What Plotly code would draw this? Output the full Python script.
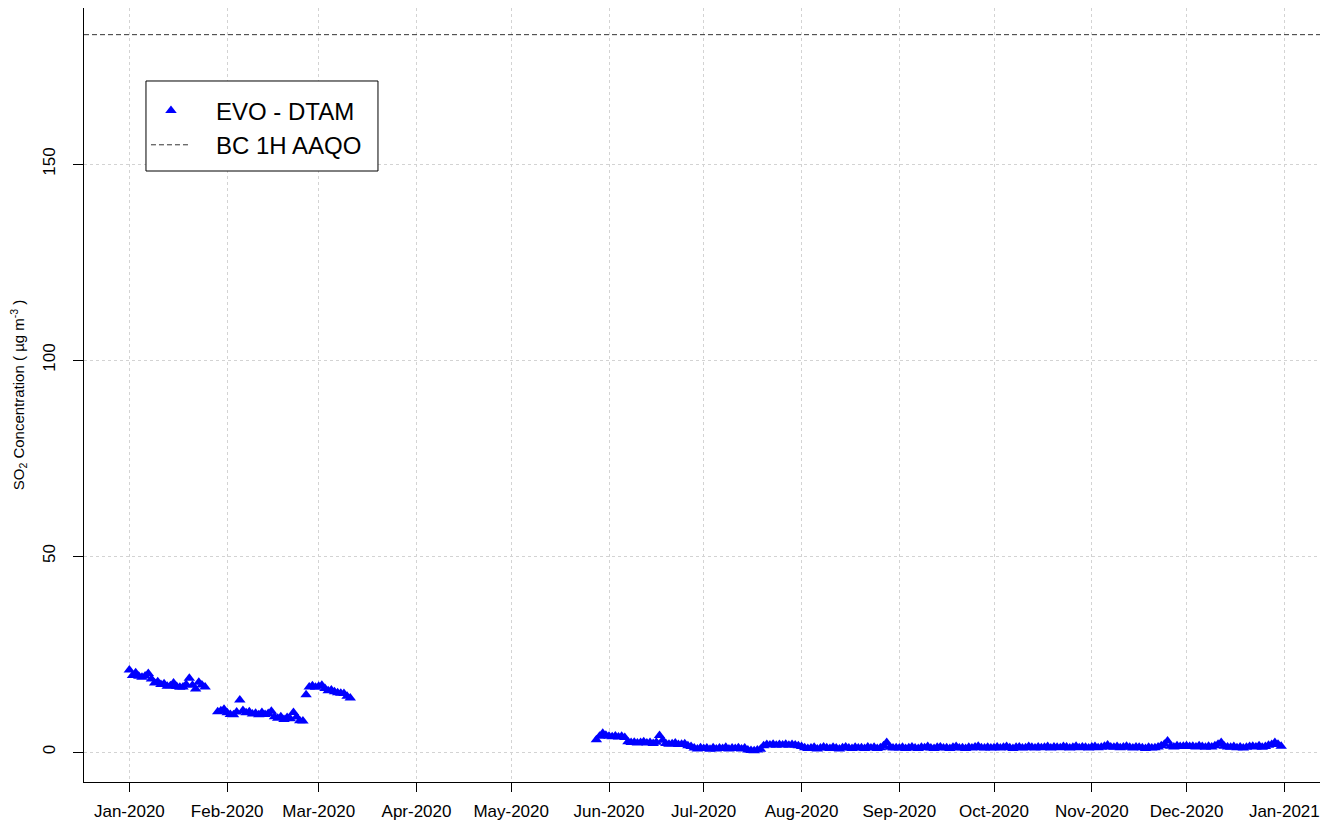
import datetime as dt
import plotly.graph_objects as go

# ---------------- data (daily SO2, ug/m3) ----------------
seg1_start = "2020-01-01"
seg1_vals = [20.9, 19.5, 20.2, 19.3, 19.1, 19.4, 20.0, 18.6, 17.6, 17.9,
             17.2, 17.4, 16.8, 16.9, 17.6, 16.7, 16.5, 16.6, 17.2, 18.8,
             17.0, 16.1, 17.8, 17.1, 16.6]

seg2_start = "2020-01-29"
seg2_vals = [10.3, 10.5, 10.9, 10.0, 9.6, 9.5, 10.2, 13.3, 10.6, 10.0,
             10.3, 9.7, 9.9, 9.5, 10.1, 9.6, 9.8, 10.4, 9.0, 8.6,
             9.0, 8.3, 8.8, 8.5, 10.1, 8.9, 8.0, 7.9]

seg3_start = "2020-02-26"
seg3_vals = [14.6, 16.6, 16.9, 16.5, 16.8, 17.0, 16.2, 15.6, 15.8, 15.4,
             15.1, 15.0, 14.9, 14.2, 13.8]

seg4_start = "2020-05-28"
may_vals = [3.1, 4.0, 4.8, 4.3]
jun_vals = [4.0, 3.9, 4.1, 3.8, 4.0, 3.7, 2.6, 2.4, 2.5, 2.3,
            2.4, 2.6, 2.3, 2.4, 2.2, 2.5, 4.2, 3.0, 2.2, 2.0,
            2.1, 2.3, 1.9, 2.0, 2.1, 1.6, 1.4, 1.0, 0.8, 1.1]
jul_vals = [0.9, 1.0, 0.7, 1.1, 0.8, 1.0, 0.9, 1.2, 0.8, 1.0,
            0.9, 1.1, 0.8, 1.0, 0.5, 0.4, 0.3, 0.5, 0.7, 1.6,
            1.9, 1.8, 2.0, 1.7, 1.9, 1.8, 2.0, 1.7, 1.9, 1.8, 1.6]
aug_vals = [1.4, 1.1, 0.9, 1.0, 1.2, 0.8, 1.0, 1.3, 1.1, 0.9,
            1.2, 1.0, 0.8, 1.1, 1.3, 1.0, 0.9, 1.2, 1.0, 1.1,
            0.9, 1.3, 1.0, 1.2, 0.9, 1.1, 1.6, 2.4, 1.2, 1.0, 1.1]
sep_vals = [1.0, 1.2, 0.9, 1.1, 1.3, 1.0, 0.9, 1.2, 1.1, 1.4,
            1.0, 0.9, 1.2, 1.3, 1.0, 1.1, 0.9, 1.2, 1.4, 1.0,
            1.1, 0.9, 1.2, 1.0, 1.3, 1.5, 1.1, 1.0, 1.2, 1.0]
oct_vals = [1.1, 1.3, 1.0, 1.2, 1.4, 1.1, 0.9, 1.2, 1.3, 1.0,
            1.1, 1.4, 1.2, 1.0, 1.3, 1.1, 1.2, 1.4, 1.0, 1.3,
            1.2, 1.1, 1.4, 1.3, 1.0, 1.2, 1.5, 1.1, 1.3, 1.2, 1.0]
nov_vals = [1.3, 1.4, 1.1, 1.2, 1.5, 1.8, 1.3, 1.2, 1.4, 1.1,
            1.3, 1.5, 1.2, 1.0, 1.3, 1.2, 1.1, 0.9, 1.2, 1.0,
            1.1, 1.3, 1.6, 2.0, 2.8, 1.5, 1.3, 1.6, 1.4, 1.5]
dec_vals = [1.6, 1.4, 1.5, 1.3, 1.6, 1.4, 1.2, 1.5, 1.3, 1.6,
            2.0, 2.4, 1.5, 1.3, 1.2, 1.4, 1.1, 1.3, 1.0, 1.2,
            1.4, 1.5, 1.3, 1.6, 1.2, 1.4, 1.7, 1.9, 2.4, 2.0, 1.5]

AAQO = 183  # BC 1-hour ambient air quality objective

tick_vals = ["2020-01-01", "2020-02-01", "2020-03-01", "2020-04-01",
             "2020-05-01", "2020-06-01", "2020-07-01", "2020-08-01",
             "2020-09-01", "2020-10-01", "2020-11-01", "2020-12-01",
             "2021-01-01"]
tick_text = ["Jan-2020", "Feb-2020", "Mar-2020", "Apr-2020", "May-2020",
             "Jun-2020", "Jul-2020", "Aug-2020", "Sep-2020", "Oct-2020",
             "Nov-2020", "Dec-2020", "Jan-2021"]
y_ticks = [0, 50, 100, 150]

X_RANGE = ["2019-12-17 15:00", "2021-01-14 05:00"]
Y_RANGE = [-7.65, 189.8]

# ---------------- build series ----------------
def dates_from(start, n):
    d0 = dt.datetime.strptime(start, "%Y-%m-%d")
    return [d0 + dt.timedelta(days=i) for i in range(n)]

segments = [
    (seg1_start, seg1_vals),
    (seg2_start, seg2_vals),
    (seg3_start, seg3_vals),
    (seg4_start, may_vals + jun_vals + jul_vals + aug_vals + sep_vals
     + oct_vals + nov_vals + dec_vals),
]
xs, ys = [], []
for start, vals in segments:
    xs += dates_from(start, len(vals))
    ys += vals

NB = "\u00a0"
fig = go.Figure()
fig.add_trace(go.Scatter(
    x=xs, y=ys, mode="markers", name=NB * 3 + "EVO - DTAM",
    marker=dict(symbol="triangle-up", size=10, color="#0000FF",
                line=dict(width=0)),
))
fig.add_trace(go.Scatter(
    x=X_RANGE, y=[AAQO, AAQO], mode="lines", name=NB * 3 + "BC 1H AAQO",
    line=dict(color="#333333", width=1, dash="5px,3px"),
))

# legend frame (R-style boxed legend)
fig.add_shape(type="rect", xref="paper", yref="paper",
              x0=0.0499, x1=0.2367, y0=0.7894, y1=0.9057,
              line=dict(color="black", width=1), fillcolor="white",
              layer="above")

fig.update_layout(
    width=1320, height=814,
    margin=dict(l=76, r=2, t=0, b=40),
    paper_bgcolor="white", plot_bgcolor="white",
    font=dict(family="Liberation Sans, Arial, sans-serif", color="black"),
    showlegend=True,
    legend=dict(x=0.0499, y=0.896, xanchor="left", yanchor="top",
                borderwidth=0, bgcolor="rgba(0,0,0,0)",
                font=dict(size=24), itemwidth=40),
)
fig.update_xaxes(
    type="date", range=X_RANGE,
    tickmode="array", tickvals=tick_vals, ticktext=tick_text,
    tickfont=dict(size=17), ticks="outside", ticklen=9, tickcolor="black",
    ticklabelstandoff=5,
    showline=True, linecolor="black", linewidth=1, mirror=True,
    showgrid=True, gridcolor="#D3D3D3", griddash="dot", gridwidth=1,
    zeroline=False,
)
fig.update_yaxes(
    range=Y_RANGE, tickmode="array", tickvals=y_ticks,
    tickangle=-90, tickfont=dict(size=17),
    ticks="outside", ticklen=10, tickcolor="black",
    ticklabelstandoff=11,
    showline=True, linecolor="black", linewidth=1, mirror=True,
    showgrid=True, gridcolor="#D3D3D3", griddash="dot", gridwidth=1,
    zeroline=False,
    title=dict(text="SO<sub>2</sub> Concentration (" + NB + "µg m<sup>-3</sup>" + NB + ")",
               font=dict(size=15), standoff=15),
)

fig.write_html("out.html")
